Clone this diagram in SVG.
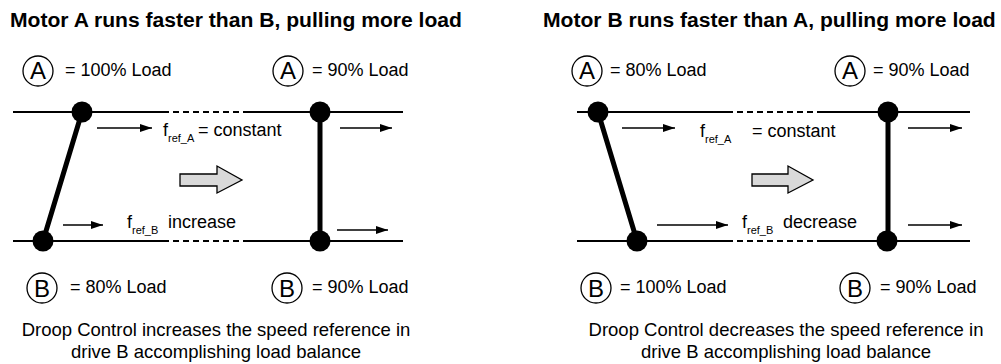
<svg xmlns="http://www.w3.org/2000/svg" width="1001" height="364" viewBox="0 0 1001 364">
<style>
text{font-family:"Liberation Sans",Arial,sans-serif;fill:#000}
.title{font-size:21.1px;font-weight:bold}
.t{font-size:18px}
.sub{font-size:11px}
.let{font-size:24px;text-anchor:middle}
.cap{font-size:18.5px;text-anchor:middle}
.ring{fill:#fff;stroke:#000;stroke-width:1.3}
.rail{stroke:#000;stroke-width:2;fill:none}
.dash{stroke:#000;stroke-width:2;stroke-dasharray:6 4;fill:none}
.bar{stroke:#000;stroke-width:5;fill:none}
.dot{fill:#000}
.arr{stroke:#000;stroke-width:1.5;fill:none;marker-end:url(#ah)}
.big{fill:#d9d9d9;stroke:#000;stroke-width:1.3}
</style>
<defs>
<marker id="ah" markerUnits="userSpaceOnUse" markerWidth="12" markerHeight="8" refX="12" refY="4" orient="auto">
<path d="M0,0 L12,4 L0,8 z" fill="#000"/>
</marker>
</defs>
<g id="left-panel">
<text class="title" x="10" y="27">Motor A runs faster than B, pulling more load</text>
<g id="left-A1"><circle class="ring" cx="38" cy="71" r="15"/><text class="let" x="38" y="79">A</text><text class="t" x="65" y="76">= 100% Load</text></g>
<g id="left-A2"><circle class="ring" cx="288" cy="71" r="15"/><text class="let" x="288" y="79">A</text><text class="t" x="312" y="76">= 90% Load</text></g>
<g id="left-B1"><circle class="ring" cx="42" cy="288" r="15"/><text class="let" x="42" y="297">B</text><text class="t" x="70" y="293">= 80% Load</text></g>
<g id="left-B2"><circle class="ring" cx="287" cy="288" r="15"/><text class="let" x="287" y="297">B</text><text class="t" x="312" y="293">= 90% Load</text></g>
<g id="left-rails">
<path class="rail" d="M13,112 H163 M248,112 H403 M13,241 H163 M248,241 H403"/>
<path class="dash" d="M163,112 H248 M163,241 H248"/>
<path class="bar" d="M82,112 L43,241 M320,112 V241"/>
<circle class="dot" cx="82" cy="112" r="10.5"/>
<circle class="dot" cx="320" cy="112" r="10.5"/>
<circle class="dot" cx="43" cy="241" r="10.5"/>
<circle class="dot" cx="320" cy="241" r="10.5"/>
</g>
<g id="left-labels">
<text class="t" x="163" y="136">f</text><text class="sub" x="168" y="142">ref_A</text><text class="t" x="198" y="136">= constant</text>
<text class="t" x="127" y="228">f</text><text class="sub" x="132" y="234">ref_B</text><text class="t" x="168" y="228">increase</text>
</g>
<path id="left-bigarrow" class="big" d="M180,174 H217 V166 L242,180 L217,193 V186 H180 z"/>
<g id="left-caption">
<text class="cap" x="216" y="336">Droop Control increases the speed reference in</text>
<text class="cap" x="216" y="358">drive B accomplishing load balance</text>
</g>
</g>
<g id="right-panel">
<text class="title" x="543" y="27">Motor B runs faster than A, pulling more load</text>
<g id="right-A1"><circle class="ring" cx="587" cy="71" r="15"/><text class="let" x="587" y="79">A</text><text class="t" x="610" y="76">= 80% Load</text></g>
<g id="right-A2"><circle class="ring" cx="850" cy="71" r="15"/><text class="let" x="850" y="79">A</text><text class="t" x="873" y="76">= 90% Load</text></g>
<g id="right-B1"><circle class="ring" cx="596" cy="288" r="15"/><text class="let" x="596" y="297">B</text><text class="t" x="620" y="293">= 100% Load</text></g>
<g id="right-B2"><circle class="ring" cx="855" cy="288" r="15"/><text class="let" x="855" y="297">B</text><text class="t" x="880" y="293">= 90% Load</text></g>
<g id="right-rails">
<path class="rail" d="M577,112 H727 M820,112 H970 M577,241 H727 M820,241 H970"/>
<path class="dash" d="M727,112 H820 M727,241 H820"/>
<path class="bar" d="M598,112 L637,241 M888,112 V241"/>
<circle class="dot" cx="598" cy="112" r="10.5"/>
<circle class="dot" cx="888" cy="112" r="10.5"/>
<circle class="dot" cx="637" cy="241" r="10.5"/>
<circle class="dot" cx="887" cy="241" r="10.5"/>
</g>
<g id="right-labels">
<text class="t" x="700" y="137">f</text><text class="sub" x="705" y="143">ref_A</text><text class="t" x="752" y="137">= constant</text>
<text class="t" x="742" y="228">f</text><text class="sub" x="747" y="234">ref_B</text><text class="t" x="783" y="228">decrease</text>
</g>
<path id="right-bigarrow" class="big" d="M752,174 H788 V166 L813,180 L788,193 V186 H752 z"/>
<g id="right-caption">
<text class="cap" x="786" y="336">Droop Control decreases the speed reference in</text>
<text class="cap" x="786" y="358">drive B accomplishing load balance</text>
</g>
</g>
<g id="connectors">
<path class="arr" d="M97,128 H152"/>
<path class="arr" d="M340,128 H392"/>
<path class="arr" d="M63,225 H103"/>
<path class="arr" d="M337,230 H388"/>
<path class="arr" d="M622,128 H675"/>
<path class="arr" d="M908,128 H962"/>
<path class="arr" d="M657,225 H728"/>
<path class="arr" d="M908,225 H962"/>
</g>
</svg>
